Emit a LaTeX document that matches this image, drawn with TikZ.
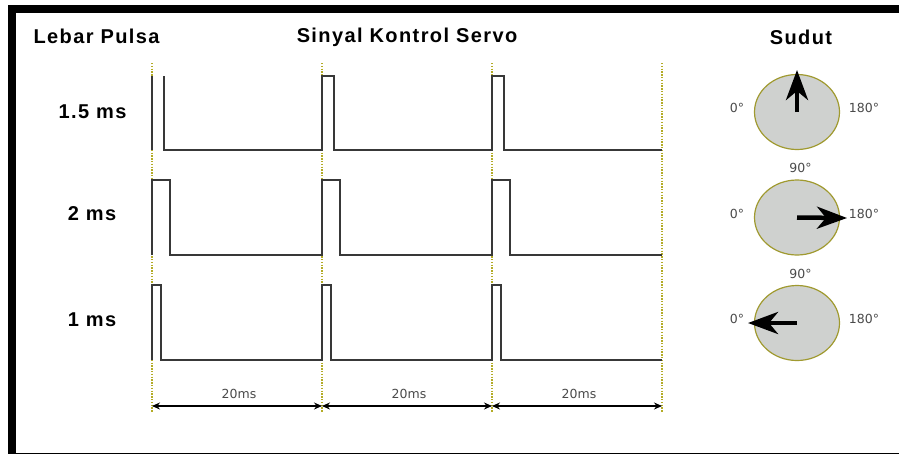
\documentclass[tikz,border=0pt]{standalone}
\usepackage{fontspec}
\setmainfont{Liberation Sans}
\newfontfamily\dejavu{DejaVu Sans}
\usetikzlibrary{arrows.meta,shapes.geometric}
\definecolor{olivedot}{HTML}{B4AC28}
\definecolor{dialfill}{HTML}{CFD1CF}
\definecolor{dialedge}{HTML}{A09A30}
\definecolor{lblgray}{HTML}{4A4A4A}
\begin{document}
\begin{tikzpicture}[x=1pt,y=-1pt,
  heading/.style={font=\fontsize{20}{22}\selectfont\bfseries\addfontfeature{LetterSpace=7}, anchor=base, inner sep=0pt},
  small/.style={font=\dejavu\fontsize{12.5}{14}\selectfont, text=lblgray, anchor=base, inner sep=0pt},
  pulse/.style={line width=2pt, draw=black!78, line join=miter},
  guide/.style={draw=olivedot, line width=1.4pt, dash pattern=on 1.4pt off 1.4pt},
  dial/.style={ellipse, draw=dialedge, fill=dialfill, line width=1.2pt, minimum width=85pt, minimum height=75pt, inner sep=0pt},
  needle/.style={-{Stealth[length=30pt,width=22pt,inset=9pt]}, line width=4.5pt},
  dim/.style={{Stealth[length=8pt,width=7pt]}-{Stealth[length=8pt,width=7pt]}, line width=1.1pt}
]
\useasboundingbox (0,0) rectangle (899,453);
\fill[white] (0,0) rectangle (899,453);
% frame
\draw[line width=8pt] (12,9) rectangle (915,457);

% headings
\node[heading] (h1) at (96.5,43) {Lebar Pulsa};
\node[heading] (h2) at (407,42.5) {Sinyal Kontrol Servo};
\node[heading] (h3) at (801,44) {Sudut};
\node[heading] (r1) at (92.5,118) {1.5 ms};
\node[heading] (r2) at (92,220) {2 ms};
\node[heading] (r3) at (92,326) {1 ms};

% guide lines
\foreach \x/\n in {152/0,322/1,492/2,662/3} {
  \coordinate (gt\n) at (\x,63);
  \coordinate (gb\n) at (\x,412);
  \draw[guide] (gt\n) -- (gb\n);
}

% pulses
\draw[pulse] (152,76) -- (152,150);
\draw[pulse] (164,76) -- (164,150) -- (322,150) -- (322,76) -- (334,76) -- (334,150)
  -- (492,150) -- (492,76) -- (504,76) -- (504,150) -- (662,150);
\draw[pulse] (152,255) -- (152,180) -- (170,180) -- (170,255) -- (322,255) -- (322,180) -- (340,180) -- (340,255)
  -- (492,255) -- (492,180) -- (510,180) -- (510,255) -- (662,255);
\draw[pulse] (152,360) -- (152,285) -- (161,285) -- (161,360) -- (322,360) -- (322,285) -- (331,285) -- (331,360)
  -- (492,360) -- (492,285) -- (501,285) -- (501,360) -- (662,360);

% dimension arrows
\foreach \x/\n in {152/0,322/1,492/2,662/3} {\coordinate (m\n) at (\x,406);}
\draw[dim] (m0) -- (m1);
\draw[dim] (m1) -- (m2);
\draw[dim] (m2) -- (m3);
\node[small] (p1) at (239,398.3) {20ms};
\node[small] (p2) at (409,398.3) {20ms};
\node[small] (p3) at (579,398.3) {20ms};

% dials
\node[dial] (d1) at (797,112) {};
\node[dial] (d2) at (797,217.5) {};
\node[dial] (d3) at (797,323) {};
\coordinate (t1) at (797,70);
\coordinate (t2) at (847,218);
\coordinate (t3) at (748,323);
\draw[needle] (d1.center) -- (t1);
\draw[needle] (d2.center) -- (t2);
\draw[needle] (d3.center) -- (t3);

% dial labels
\node[small] (a1) at (737,112.7) {0°};
\node[small] (b1) at (864,112.7) {180°};
\node[small] (c1) at (800.5,172.7) {90°};
\node[small] (a2) at (737,218) {0°};
\node[small] (b2) at (864,218) {180°};
\node[small] (c2) at (800.5,278) {90°};
\node[small] (a3) at (737,323) {0°};
\node[small] (b3) at (864,323) {180°};
\end{tikzpicture}
\end{document}
